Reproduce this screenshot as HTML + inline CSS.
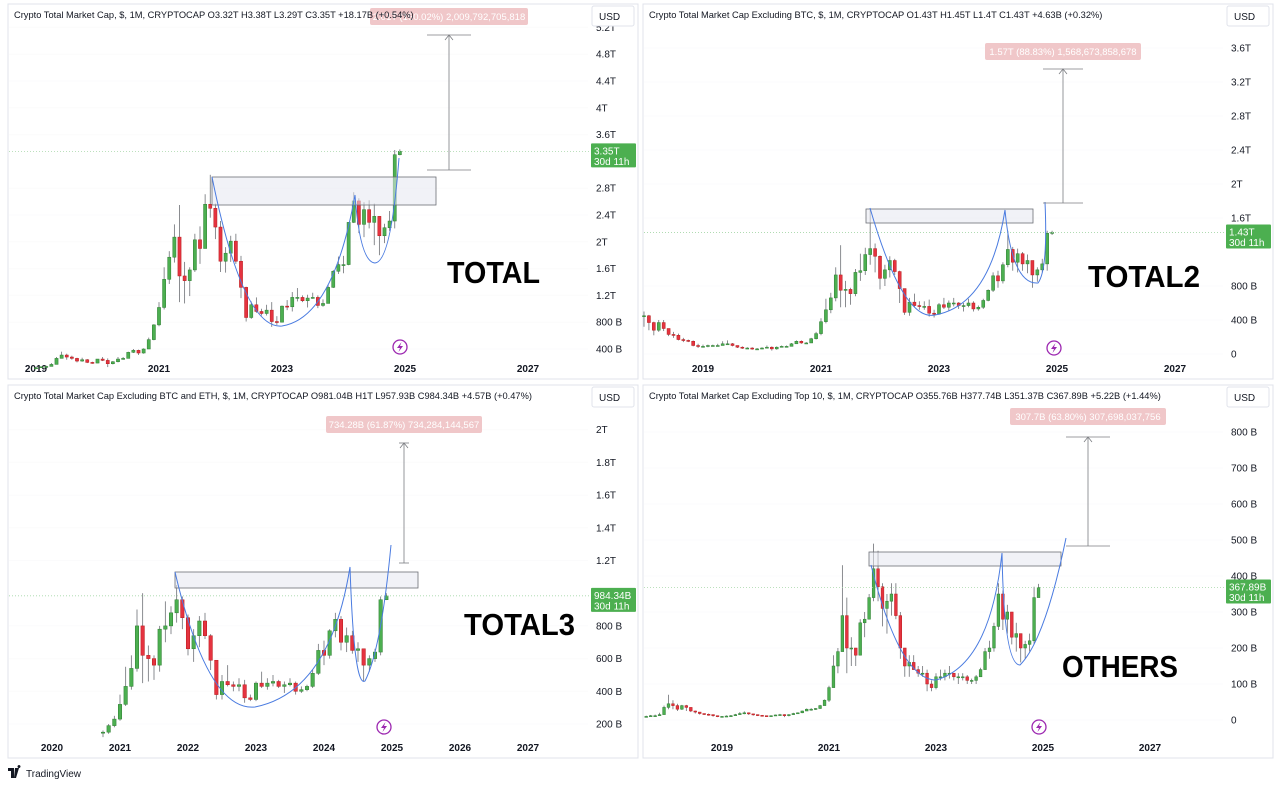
<!DOCTYPE html>
<html><head><meta charset="utf-8"><style>
html,body{margin:0;padding:0;background:#fff;}
svg{display:block;font-family:"Liberation Sans",sans-serif;}
</style></head><body>
<svg id="root" width="1280" height="787" viewBox="0 0 1280 787" xmlns="http://www.w3.org/2000/svg">
<rect x="0" y="0" width="1280" height="787" fill="#fff"/>
</svg>
<script>
// ===== TOTAL (from 2019-01), trillions
const totalStart = 2019;
const totalClose = [0.12,0.135,0.14,0.17,0.26,0.31,0.28,0.26,0.22,0.24,0.20,0.19, 0.25,0.23,0.18,0.21,0.25,0.26,0.35,0.38,0.34,0.40,0.54,0.76, 1.02,1.44,1.77,2.07,1.49,1.42,1.58,2.03,1.90,2.56,2.50,2.22, 1.71,1.83,2.01,1.71,1.32,0.87,1.06,0.96,0.93,0.98,0.81,0.80, 1.04,1.03,1.17,1.17,1.12,1.16,1.17,1.05,1.08,1.32,1.56,1.66, 1.66,2.29,2.61,2.26,2.48,2.29,2.38,2.09,2.21,2.31,3.30,3.35];
const totalHigh = [0.13,0.14,0.15,0.19,0.28,0.36,0.33,0.30,0.27,0.27,0.25,0.21, 0.25,0.28,0.26,0.22,0.28,0.28,0.36,0.40,0.39,0.41,0.57,0.77, 1.10,1.62,1.86,2.26,2.55,1.70,1.62,2.12,2.23,2.71,3.00,2.57, 2.31,1.92,2.09,2.12,1.79,1.33,1.11,1.17,1.00,1.06,1.10,0.89, 1.05,1.13,1.25,1.31,1.20,1.21,1.24,1.20,1.14,1.36,1.58,1.78, 1.79,2.29,2.74,2.65,2.59,2.62,2.57,2.38,2.27,2.46,3.37,3.38];
const totalLow = [0.11,0.12,0.13,0.14,0.17,0.26,0.24,0.24,0.20,0.21,0.19,0.18, 0.19,0.22,0.13,0.17,0.20,0.24,0.26,0.34,0.31,0.33,0.40,0.53, 0.74,0.99,1.37,1.69,1.10,1.08,1.19,1.55,1.67,1.90,2.36,2.04, 1.55,1.54,1.70,1.67,1.16,0.81,0.85,0.94,0.90,0.90,0.73,0.76, 0.80,0.98,0.96,1.11,1.10,1.02,1.15,1.01,1.03,1.08,1.31,1.52, 1.53,1.65,2.28,2.13,2.07,2.20,1.95,1.80,1.98,2.16,2.20,3.29];
const totalTicks = [0.4,0.8,1.2,1.6,2,2.4,2.8,3.6,4,4.4,4.8,5.2];
const totalTickLabels = ["400 B","800 B","1.2T","1.6T","2T","2.4T","2.8T","3.6T","4T","4.4T","4.8T","5.2T"];
const totalYears = [2019,2021,2023,2025,2027];

// ===== TOTAL2 (from 2018-01), trillions
const total2Start = 2018;
const total2Close = [.45,.37,.28,.37,.30,.23,.22,.17,.16,.15,.10,.09, .09,.10,.10,.10,.12,.12,.10,.08,.07,.07,.06,.06, .07,.08,.06,.08,.09,.09,.12,.15,.13,.13,.18,.24, .38,.52,.66,.93,.75,.76,.71,.96,.98,1.17,1.24,1.15, .89,.99,1.10,.97,.77,.49,.61,.57,.56,.56,.48,.47, .58,.55,.60,.60,.57,.57,.60,.53,.55,.63,.75,.92, .86,1.05,1.23,1.08,1.18,1.06,1.10,.93,.99,1.06,1.42,1.43];
const total2High = [.50,.46,.38,.40,.40,.30,.26,.24,.19,.17,.16,.12, .11,.11,.11,.12,.15,.16,.13,.10,.09,.08,.08,.07, .08,.10,.09,.09,.10,.10,.13,.16,.16,.14,.19,.26, .42,.65,.72,1.02,1.28,.86,.78,1.00,1.18,1.25,1.70,1.30, 1.16,1.05,1.15,1.12,.98,.65,.66,.71,.62,.62,.64,.52, .60,.66,.63,.66,.61,.60,.65,.62,.57,.65,.76,.96, .98,1.08,1.45,1.26,1.24,1.20,1.17,1.10,1.02,1.12,1.45,1.45];
const total2Low = [.32,.28,.22,.26,.27,.21,.19,.16,.14,.14,.09,.07, .08,.08,.09,.09,.10,.11,.09,.07,.06,.06,.05,.05, .06,.07,.04,.05,.08,.08,.09,.12,.12,.12,.13,.17, .22,.36,.48,.62,.55,.55,.58,.68,.86,.93,1.05,.96, .76,.80,.90,.93,.60,.46,.45,.55,.52,.52,.44,.43, .46,.53,.51,.56,.53,.50,.55,.50,.51,.53,.62,.73, .78,.83,1.02,.98,.96,.98,.95,.78,.85,.96,.98,1.40];
const total2Ticks = [0,0.4,0.8,1.6,2,2.4,2.8,3.2,3.6];
const total2TickLabels = ["0","400 B","800 B","1.6T","2T","2.4T","2.8T","3.2T","3.6T"];
const total2Years = [2019,2021,2023,2025,2027];

// ===== TOTAL3 (from 2020-10), billions
const total3Start = 2020 + 9/12;
const total3Close = [150,190,230, 320,430,540,800,620,600,560,780,800,880,960,850, 660,740,830,740,590,380,460,440,430,440,360,350, 450,430,450,460,430,440,450,400,410,430,510,650, 620,770,840,700,740,650,660,560,600,640,960,984];
const total3High = [160,200,250, 380,550,620,900,1000,680,620,800,950,920,1050,980, 870,780,860,880,750,580,500,560,460,480,470,380, 460,520,480,500,470,460,480,460,430,440,530,690, 710,780,880,860,790,770,700,660,620,660,980,1000];
const total3Low = [120,140,180, 220,310,410,520,450,460,470,520,700,750,820,780, 620,580,670,720,530,350,350,430,400,400,330,340, 340,420,410,430,420,390,430,380,390,400,420,500, 560,600,730,650,640,630,580,460,520,580,620,958];
const total3Ticks = [200,400,600,800,1200,1400,1600,1800,2000];
const total3TickLabels = ["200 B","400 B","600 B","800 B","1.2T","1.4T","1.6T","1.8T","2T"];
const total3Years = [2020,2021,2022,2023,2024,2025,2026,2027];

// ===== OTHERS (from 2017-08), billions
const othersStart = 2017 + 7/12;
const othersClose = [10,12,12,15,35, 45,40,30,40,35,25,22,18,16,15,12,10, 10,11,12,15,18,20,17,15,13,12,11,12, 14,15,12,15,18,20,25,30,30,32,40,55, 90,150,190,290,200,200,180,270,280,340,420,370, 310,330,350,290,200,150,160,140,130,130,100,90, 120,120,130,130,120,120,120,110,110,120,140,190, 200,260,350,280,300,230,240,200,210,220,340,368];
const othersHigh = [12,14,15,20,40, 70,55,45,42,42,30,26,22,18,18,15,12, 11,13,14,17,22,24,21,17,15,14,12,13, 15,17,16,16,20,21,26,32,33,33,42,57, 95,180,200,430,340,230,200,280,300,350,490,470, 380,350,380,380,300,190,180,180,150,150,140,110, 130,140,140,150,130,130,130,125,115,125,145,200, 220,270,380,360,320,300,270,240,220,240,370,378];
const othersLow = [8,10,10,12,18, 30,30,25,28,25,22,18,15,14,12,9,8, 8,9,10,12,14,16,14,12,11,10,9,10, 11,12,8,10,14,17,19,25,26,28,31,40, 50,90,130,190,130,150,150,180,230,280,330,330, 260,240,290,280,170,120,120,140,120,120,80,80, 85,110,110,115,110,100,110,100,100,100,120,140, 170,190,250,250,240,210,190,160,170,190,210,351];
const othersTicks = [0,100,200,300,400,500,600,700,800];
const othersTickLabels = ["0","100 B","200 B","300 B","400 B","500 B","600 B","700 B","800 B"];
const othersYears = [2019,2021,2023,2025,2027];

const NS = "http://www.w3.org/2000/svg";
const root = document.getElementById('root');
function mk(tag, attrs, parent, text) {
  const e = document.createElementNS(NS, tag);
  for (const k in attrs) e.setAttribute(k, attrs[k]);
  if (text !== undefined) e.textContent = text;
  (parent || root).appendChild(e);
  return e;
}

function drawPanel(cfg) {
  const g = mk('g', {});
  
  
  const xOf = t => cfg.ax + (t - cfg.t0) * cfg.ppy;
  const yOf = v => cfg.ay - (v - cfg.v0) * cfg.ppu;
  const fr = mk('rect', {x:cfg.px, y:cfg.py, width:cfg.pw, height:cfg.ph, fill:'#fff', stroke:'#e0e3eb', 'stroke-width':1}, g);
  
  
  const right = cfg.px + cfg.pw;
  const axisX = right - 42;
  cfg.ticks.forEach((v, i) => {
    const y = yOf(v);
    mk('line', {x1:cfg.px+1, x2:axisX-8, y1:y, y2:y, stroke:'#fbfbfc', 'stroke-width':1}, g);
    const t = mk('text', {x:axisX, y:y+3.5, 'font-size':10, fill:'#131722'}, g, cfg.tickLabels[i]);
    
    
  });
  cfg.years.forEach(yr => {
    const t = mk('text', {x:xOf(yr), y:cfg.py+cfg.ph-7, 'font-size':10, 'font-weight':'bold', fill:'#131722', 'text-anchor':'middle'}, g, String(yr));
    
    
  });
  const C = cfg.close, H = cfg.high, L = cfg.low;
  const bw = Math.max(1.2, cfg.ppy / 12 * 0.62);
  const cg = mk('g', {}, g);
  
  
  for (let i = 0; i < C.length; i++) {
    const o = i > 0 ? C[i-1] : C[i];
    const c = C[i];
    const up = c >= o;
    const x = xOf(cfg.start + i/12);
    const col = up ? '#4caf50' : '#e53340';
    const edge = up ? '#2e7d32' : '#b71c1c';
    const w = mk('line', {x1:x, x2:x, y1:yOf(H[i]), y2:yOf(L[i]), stroke:'#6d6f75', 'stroke-width':0.8}, cg);
    
    
    const top = yOf(Math.max(o, c)), bot = yOf(Math.min(o, c));
    const b = mk('rect', {x:x-bw/2, y:top, width:bw, height:Math.max(1, bot-top), fill:col, stroke:edge, 'stroke-width':0.5}, cg);
    
    
  }
  const last = C[C.length-1];
  const ly = yOf(last);
  mk('line', {x1:cfg.px+1, x2:axisX-6, y1:ly, y2:ly, stroke:'#a5d6a7', 'stroke-width':0.8, 'stroke-dasharray':'1 2'}, g);
  const pl = mk('g', {}, g);
  
  
  mk('rect', {x:axisX-5, y:ly-8, width:45, height:24, fill:'#4caf50', rx:1}, pl);
  mk('text', {x:axisX-2, y:ly+3, 'font-size':10, fill:'#fff'}, pl, cfg.priceText);
  mk('text', {x:axisX-2, y:ly+13.5, 'font-size':10, fill:'#fff'}, pl, '30d 11h');
  const ar = mk('rect', {x:cfg.box[0], y:cfg.box[1], width:cfg.box[2]-cfg.box[0], height:cfg.box[3]-cfg.box[1], fill:'rgba(230,232,240,0.55)', stroke:'#6d6f75', 'stroke-width':0.8}, g);
  
  
  const cv = mk('path', {d:cfg.curve, fill:'none', stroke:'#4a7be0', 'stroke-width':1}, g);
  
  
  const m = cfg.measure;
  const mg = mk('g', {}, g);
  
  
  mk('line', {x1:m[0], x2:m[0], y1:m[1], y2:m[2], stroke:'#7b7d82', 'stroke-width':0.8}, mg);
  mk('line', {x1:m[0]-m[3], x2:m[0]+m[3], y1:m[1], y2:m[1], stroke:'#7b7d82', 'stroke-width':0.8}, mg);
  mk('line', {x1:m[0]-m[3], x2:m[0]+m[3], y1:m[2], y2:m[2], stroke:'#7b7d82', 'stroke-width':0.8}, mg);
  mk('path', {d:`M${m[0]-4},${m[2]+5} L${m[0]},${m[2]} L${m[0]+4},${m[2]+5}`, fill:'none', stroke:'#7b7d82', 'stroke-width':0.8}, mg);
  const pk = mk('g', {}, g);
  
  
  mk('rect', {x:cfg.pink[0], y:cfg.pink[1], width:cfg.pink[2], height:17, rx:2, fill:'#f0c7c9'}, pk);
  mk('text', {x:cfg.pink[0]+cfg.pink[2]/2, y:cfg.pink[1]+12, 'font-size':9.5, fill:'#fff', 'text-anchor':'middle'}, pk, cfg.pinkText);
  const hd = mk('text', {x:cfg.px+6, y:cfg.py+14, 'font-size':9.3, fill:'#131722'}, g, cfg.header);
  
  
  const ub = mk('g', {}, g);
  
  
  mk('rect', {x:right-46, y:cfg.py+2, width:42, height:20, rx:2, fill:'#fff', stroke:'#e0e3eb'}, ub);
  mk('text', {x:right-39, y:cfg.py+16, 'font-size':10, fill:'#131722'}, ub, 'USD');
  const bl = mk('text', {x:cfg.big[0], y:cfg.big[1], 'font-size':31, 'font-weight':'bold', fill:'#000', textLength:cfg.big[2], lengthAdjust:'spacingAndGlyphs'}, g, cfg.bigText);
  
  
  const li = mk('g', {}, g);
  
  
  mk('circle', {cx:cfg.bolt[0], cy:cfg.bolt[1], r:7, fill:'#fff', stroke:'#9c27b0', 'stroke-width':1.3}, li);
  const bx = cfg.bolt[0], by = cfg.bolt[1];
  mk('path', {d:`M${bx+1.5},${by-5} L${bx-3},${by+1} L${bx},${by+1} L${bx-1.5},${by+5} L${bx+3},${by-1} L${bx},${by-1} Z`, fill:'#9c27b0'}, li);
}

drawPanel({name:'total-chart', px:8, py:4, pw:630, ph:375, ax:36, t0:2019, ppy:61.5, ay:349, v0:0.4, ppu:67,
  start:totalStart, close:totalClose, high:totalHigh, low:totalLow, ticks:totalTicks, tickLabels:totalTickLabels, years:totalYears,
  priceText:'3.35T', box:[212,177,436,205], curve:'M212,177 Q243,330 282,326 Q333,318 355,195 Q360,262 375,263 Q391,262 399,158',
  measure:[449,170,35,22], pink:[370,8,158], pinkText:'2.01T (150.02%) 2,009,792,705,818',
  header:'Crypto Total Market Cap, $, 1M, CRYPTOCAP  O3.32T  H3.38T  L3.29T  C3.35T  +18.17B (+0.54%)',
  big:[447,283,93], bigText:'TOTAL', bolt:[400,347]});

drawPanel({name:'total2-chart', px:643, py:4, pw:630, ph:375, ax:703, t0:2019, ppy:59, ay:354, v0:0, ppu:85,
  start:total2Start, close:total2Close, high:total2High, low:total2Low, ticks:total2Ticks, tickLabels:total2TickLabels, years:total2Years,
  priceText:'1.43T', box:[866,209,1033,223], curve:'M870,208 Q903,322 935,315 Q990,305 1005,210 Q1012,285 1038,283 Q1048,270 1045,202',
  measure:[1063,203,69,20], pink:[985,43,156], pinkText:'1.57T (88.83%) 1,568,673,858,678',
  header:'Crypto Total Market Cap Excluding BTC, $, 1M, CRYPTOCAP  O1.43T  H1.45T  L1.4T  C1.43T  +4.63B (+0.32%)',
  big:[1088,287,112], bigText:'TOTAL2', bolt:[1054,348]});

drawPanel({name:'total3-chart', px:8, py:385, pw:630, ph:373, ax:52, t0:2020, ppy:68, ay:724, v0:200, ppu:0.1635,
  start:total3Start, close:total3Close, high:total3High, low:total3Low, ticks:total3Ticks, tickLabels:total3TickLabels, years:total3Years,
  priceText:'984.34B', box:[175,572,418,588], curve:'M175,572 Q208,712 255,707 Q330,692 350,567 Q354,688 365,681 Q381,650 391,545',
  measure:[404,563,443,5], pink:[326,416,156], pinkText:'734.28B (61.87%) 734,284,144,567',
  header:'Crypto Total Market Cap Excluding BTC and ETH, $, 1M, CRYPTOCAP  O981.04B  H1T  L957.93B  C984.34B  +4.57B (+0.47%)',
  big:[464,635,111], bigText:'TOTAL3', bolt:[384,727]});

drawPanel({name:'others-chart', px:643, py:385, pw:630, ph:373, ax:722, t0:2019, ppy:53.5, ay:720, v0:0, ppu:0.36,
  start:othersStart, close:othersClose, high:othersHigh, low:othersLow, ticks:othersTicks, tickLabels:othersTickLabels, years:othersYears,
  priceText:'367.89B', box:[869,552,1061,566], curve:'M871,565 Q900,680 936,680 Q990,665 1002,553 Q1004,665 1020,665 Q1045,640 1066,538',
  measure:[1088,546,437,22], pink:[1010,408,156], pinkText:'307.7B (63.80%) 307,698,037,756',
  header:'Crypto Total Market Cap Excluding Top 10, $, 1M, CRYPTOCAP  O355.76B  H377.74B  L351.37B  C367.89B  +5.22B (+1.44%)',
  big:[1062,677,116], bigText:'OTHERS', bolt:[1039,727]});

const ft = mk('g', {});


mk('path', {d:'M8,768 H14 V778 H11 V771 H8 Z M15,768 H19 L16,778 H14 Z M19,768 A1.5,1.5 0 1 1 19.01,768', fill:'#131722'}, ft);
mk('text', {x:26, y:777, 'font-size':10, fill:'#131722'}, ft, 'TradingView');
</script>
</body></html>
